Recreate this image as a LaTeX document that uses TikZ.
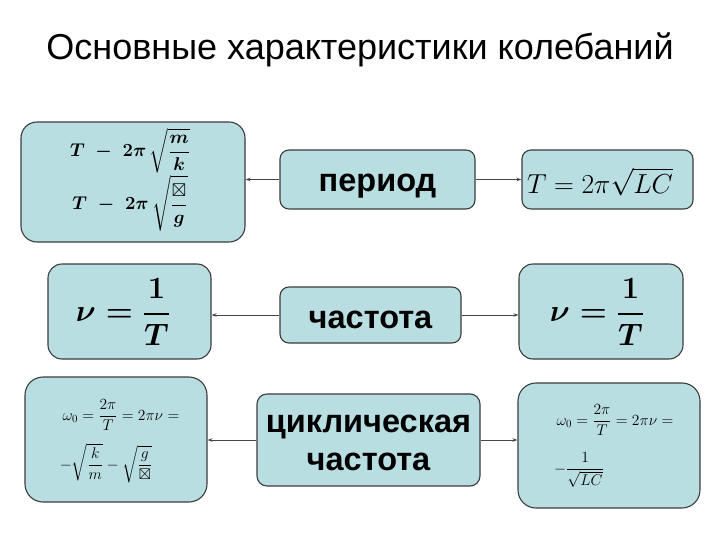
\RequirePackage{fix-cm}
\documentclass[tikz,border=0pt]{standalone}
\usepackage{amsmath,amssymb}
\usepackage{fontspec}
\setmainfont{Liberation Sans}
\usetikzlibrary{arrows.meta}
\definecolor{boxfill}{RGB}{185,222,226}
\definecolor{boxline}{RGB}{60,60,60}
\definecolor{conn}{RGB}{70,70,70}
\tikzset{
  box/.style={draw=boxline, line width=1.1pt, fill=boxfill, rounded corners=#1, inner sep=0pt},
  box/.default=10pt,
  lbl/.style={font=\bfseries\fontsize{32.5}{38}\selectfont, align=center, inner sep=0pt},
  frm/.style={inner sep=0pt, align=center},
  conn/.style={draw=conn, line width=0.8pt, -{Stealth[length=5pt,width=3.5pt]}}
}
\begin{document}
\begin{tikzpicture}[x=1pt,y=-1pt]
\useasboundingbox (0,0) rectangle (720,540);
\node[inner sep=0pt, anchor=base, font=\fontsize{36}{42}\selectfont] (title) at (360,60) {Основные характеристики колебаний};

% boxes
\node[box=16pt, minimum width=224pt, minimum height=120pt] (A) at (133,182) {};
\node[box=9pt, minimum width=195pt, minimum height=59pt] (per) at (377.5,179.5) {};
\node[box=9pt, minimum width=171pt, minimum height=59pt] (B) at (607.5,179.5) {};
\node[box=14pt, minimum width=163pt, minimum height=95pt] (C) at (129.5,311.5) {};
\node[box=9pt, minimum width=181pt, minimum height=56pt] (fr) at (370.5,315) {};
\node[box=14pt, minimum width=164pt, minimum height=95pt] (D) at (601,311.5) {};
\node[box=18pt, minimum width=182pt, minimum height=125pt] (E) at (116,439.5) {};
\node[box=10pt, minimum width=223pt, minimum height=92pt] (cyc) at (368.5,440) {};
\node[box=18pt, minimum width=182pt, minimum height=125pt] (F) at (609,445.5) {};

% labels
\node[lbl, anchor=base] (perT) at (377.5,192) {период};
\node[lbl, anchor=base] (frT) at (370.5,328) {частота};
\node[lbl, anchor=base] (cycT) at (368.5,470) {циклическая\\частота};

% formulas
\node[frm, anchor=base, font=\fontsize{18.5}{22}\selectfont\boldmath] (A1) at (130,157) {$\displaystyle T\;-\;2\pi\,\sqrt{\frac{m}{k}}$};
\node[frm, anchor=base, font=\fontsize{18.5}{22}\selectfont\boldmath] (A2) at (130,210) {$\displaystyle T\;-\;2\pi\,\sqrt{\frac{\boxtimes}{g}}$};
\node[frm, font=\fontsize{27.5}{32}\selectfont] (Bf) at (600,182) {$T=2\pi\sqrt{LC}$};
\node[frm, font=\fontsize{31}{36}\selectfont\boldmath] (Cf) at (123,312) {$\displaystyle \nu=\frac{1}{T}$};
\node[frm, font=\fontsize{31}{36}\selectfont\boldmath] (Df) at (597,312) {$\displaystyle \nu=\frac{1}{T}$};
\node[frm, anchor=base, font=\fontsize{15.5}{18}\selectfont] (E1) at (121,420) {$\displaystyle \omega_0=\frac{2\pi}{T}=2\pi\nu=$};
\node[frm, font=\fontsize{15.5}{18}\selectfont] (E2) at (106,463) {$\displaystyle -\sqrt{\frac{k}{m}}-\sqrt{\frac{g}{\boxtimes}}$};
\node[frm, anchor=base, font=\fontsize{15.5}{18}\selectfont] (F1) at (615,425) {$\displaystyle \omega_0=\frac{2\pi}{T}=2\pi\nu=$};
\node[frm, font=\fontsize{15.5}{18}\selectfont, anchor=west] (F2) at (554,470) {$\displaystyle -\frac{1}{\sqrt{LC}}$};

% connectors
\draw[conn] (per.west) -- (per.west -| A.east);
\draw[conn] (per.east) -- (per.east -| B.west);
\draw[conn] (fr.west) -- (fr.west -| C.east);
\draw[conn] (fr.east) -- (fr.east -| D.west);
\draw[conn] (cyc.west) -- (cyc.west -| E.east);
\draw[conn] (cyc.east) -- (cyc.east -| F.west);
\end{tikzpicture}
\end{document}
